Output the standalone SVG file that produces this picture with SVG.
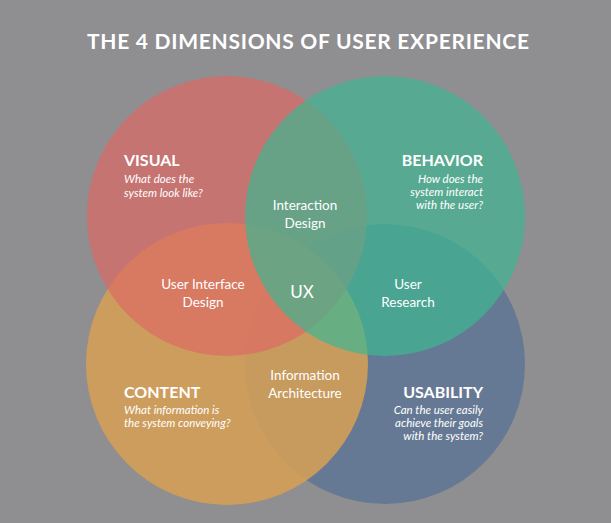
<svg xmlns="http://www.w3.org/2000/svg" width="611" height="523" viewBox="0 0 611 523">
<style>
.t{font-family:"Lato","Liberation Sans",sans-serif;fill:#fff}
.h{font-size:16px;font-weight:bold}
.q{font-size:11.5px;font-style:italic}
.m{font-size:13.5px}
</style>
<rect width="611" height="523" fill="#8f8e91"/>
<text class="t" x="308" y="49" text-anchor="middle" font-size="21" font-weight="bold" textLength="442">THE 4 DIMENSIONS OF USER EXPERIENCE</text>
<g id="usability"><circle cx="385" cy="364" r="140" fill="#5f7594" fill-opacity="0.85"/></g>
<g id="content"><circle cx="227" cy="364" r="141" fill="#d8a055" fill-opacity="0.85"/></g>
<g id="visual"><circle cx="227" cy="216" r="140" fill="#dd6a64" fill-opacity="0.7"/></g>
<g id="behavior"><circle cx="385" cy="216" r="140" fill="#3fb791" fill-opacity="0.7"/></g>
<g id="labels">
<text class="t h" x="124" y="166">VISUAL</text>
<text class="t q" x="124" y="183">What does the</text>
<text class="t q" x="124" y="197">system look like?</text>
<text class="t h" x="483" y="166" text-anchor="end">BEHAVIOR</text>
<text class="t q" x="483" y="183" text-anchor="end">How does the</text>
<text class="t q" x="483" y="196" text-anchor="end">system interact</text>
<text class="t q" x="483" y="209" text-anchor="end">with the user?</text>
<text class="t h" x="124" y="398">CONTENT</text>
<text class="t q" x="124" y="414">What information is</text>
<text class="t q" x="124" y="427">the system conveying?</text>
<text class="t h" x="483" y="398" text-anchor="end">USABILITY</text>
<text class="t q" x="483" y="414" text-anchor="end">Can the user easily</text>
<text class="t q" x="483" y="427" text-anchor="end">achieve their goals</text>
<text class="t q" x="483" y="440" text-anchor="end">with the system?</text>
<text class="t m" x="305" y="210" text-anchor="middle">Interaction</text>
<text class="t m" x="305" y="228" text-anchor="middle">Design</text>
<text class="t m" x="203" y="289" text-anchor="middle">User Interface</text>
<text class="t m" x="203" y="307" text-anchor="middle">Design</text>
<text class="t m" x="408" y="289" text-anchor="middle">User</text>
<text class="t m" x="408" y="307" text-anchor="middle">Research</text>
<text class="t" x="302" y="298" text-anchor="middle" font-size="17">UX</text>
<text class="t m" x="305" y="380" text-anchor="middle">Information</text>
<text class="t m" x="305" y="398" text-anchor="middle">Architecture</text>
</g>
</svg>
